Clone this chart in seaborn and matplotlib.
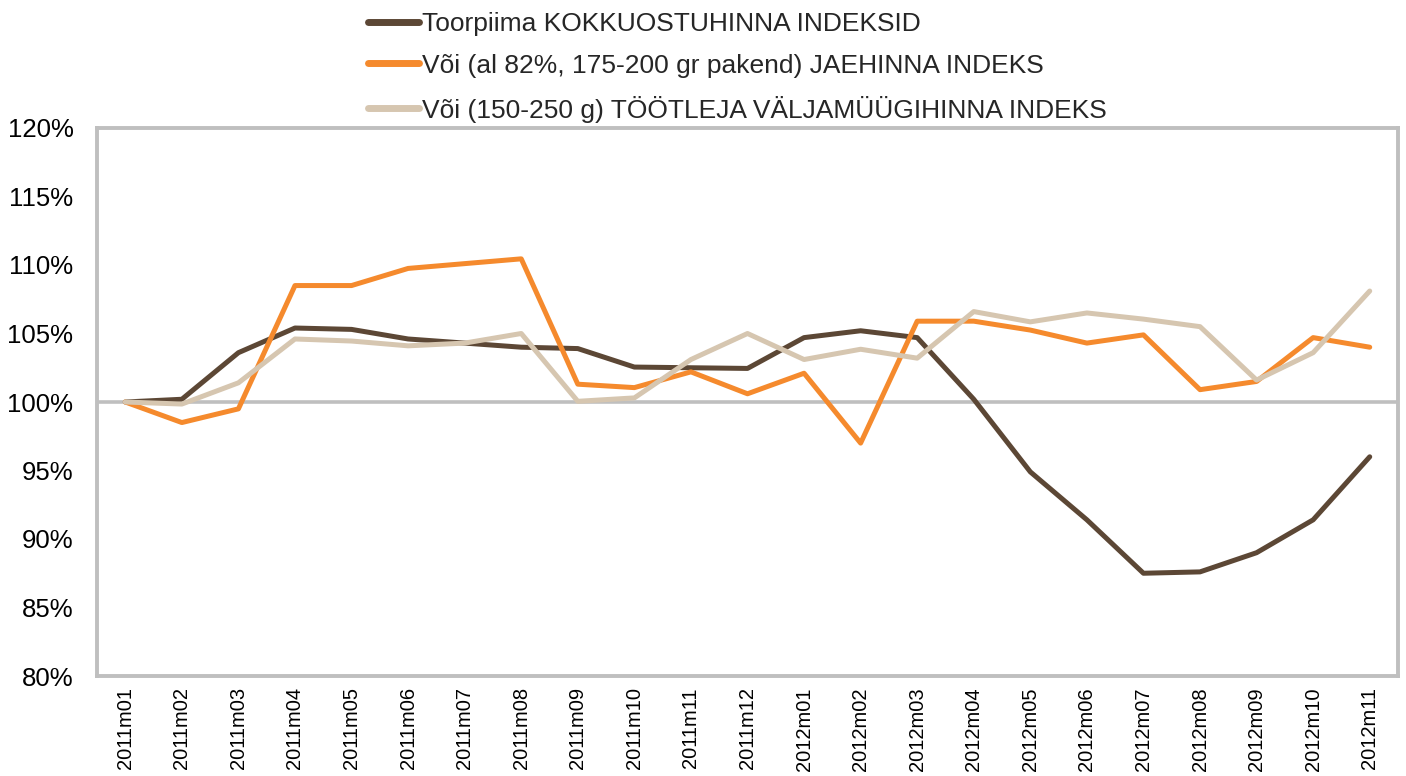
import numpy as np
import pandas as pd
import matplotlib
matplotlib.use("Agg")
import matplotlib.pyplot as plt
import seaborn as sns
from matplotlib import font_manager
from matplotlib.lines import Line2D

months = ["2011m01", "2011m02", "2011m03", "2011m04", "2011m05", "2011m06",
          "2011m07", "2011m08", "2011m09", "2011m10", "2011m11", "2011m12",
          "2012m01", "2012m02", "2012m03", "2012m04", "2012m05", "2012m06",
          "2012m07", "2012m08", "2012m09", "2012m10", "2012m11"]

toorpiima = [100.0, 100.2, 103.6, 105.4, 105.3, 104.6, 104.3, 104.0, 103.9, 102.55,
             102.5, 102.45, 104.7, 105.2, 104.7, 100.2, 94.9, 91.4, 87.5, 87.6,
             89.0, 91.4, 96.0]
jaehind = [100.0, 98.5, 99.5, 108.5, 108.5, 109.75, 110.1, 110.45, 101.3, 101.05,
           102.2, 100.6, 102.1, 97.0, 105.9, 105.9, 105.25, 104.3, 104.9, 100.9,
           101.5, 104.7, 104.0]
tootleja = [100.0, 99.85, 101.4, 104.6, 104.45, 104.1, 104.3, 105.0, 100.05, 100.3,
            103.1, 105.0, 103.1, 103.85, 103.2, 106.6, 105.85, 106.5, 106.05, 105.5,
            101.6, 103.6, 108.1]

series_names = ["Toorpiima KOKKUOSTUHINNA INDEKSID",
                "Või (al 82%, 175-200 gr pakend) JAEHINNA INDEKS",
                "Või (150-250 g) TÖÖTLEJA VÄLJAMÜÜGIHINNA INDEKS"]
colors = ["#5C4735", "#F58A2D", "#D6C6B0"]
yticks = [80, 85, 90, 95, 100, 105, 110, 115, 120]

sns.set_theme(style="white")
installed = {f.name for f in font_manager.fontManager.ttflist}
base_font = "Liberation Sans" if "Liberation Sans" in installed else "DejaVu Sans"
narrow_font = "Liberation Sans Narrow" if "Liberation Sans Narrow" in installed else base_font
plt.rcParams["font.family"] = [base_font, "DejaVu Sans"]

df = pd.DataFrame({
    "month": months * 3,
    "x": list(range(len(months))) * 3,
    "value": toorpiima + jaehind + tootleja,
    "series": [series_names[0]] * len(months) + [series_names[1]] * len(months)
              + [series_names[2]] * len(months),
})

fig = plt.figure(figsize=(14.06, 7.76), dpi=100)
ax = fig.add_axes([97 / 1406, 1 - 676 / 776, (1398 - 97) / 1406, (676 - 128) / 776])

ax.axhline(100, color="#BFBFBF", lw=2.6, zorder=1)
sns.lineplot(data=df, x="x", y="value", hue="series", hue_order=series_names,
             palette=colors, linewidth=3.6, ax=ax, legend=False, zorder=3)

ax.set_xlim(-0.5, len(months) - 0.5)
ax.set_ylim(80, 120)
ax.set_xticks(range(len(months)))
ax.set_xticklabels(months, rotation=90, fontsize=14.5)
ax.set_yticks(yticks)
ax.set_yticklabels([f"{v}%" for v in yticks], fontsize=18.5)
ax.set_xlabel("")
ax.set_ylabel("")
ax.tick_params(axis="both", length=0, colors="black")
ax.tick_params(axis="x", pad=8)
ax.tick_params(axis="y", pad=17)
for s in ax.spines.values():
    s.set_color("#BFBFBF")
    s.set_linewidth(2.8)

handles = [Line2D([0], [0], color=c, lw=5) for c in colors]
leg = fig.legend(handles, series_names, loc="upper left",
                 bbox_to_anchor=(344 / 1406, 1 + 12 / 776), frameon=False,
                 handlelength=1.95, handletextpad=0.12, labelspacing=0.68,
                 prop={"family": narrow_font, "size": 19})

fig.savefig("out.png", dpi=100, facecolor="white")
